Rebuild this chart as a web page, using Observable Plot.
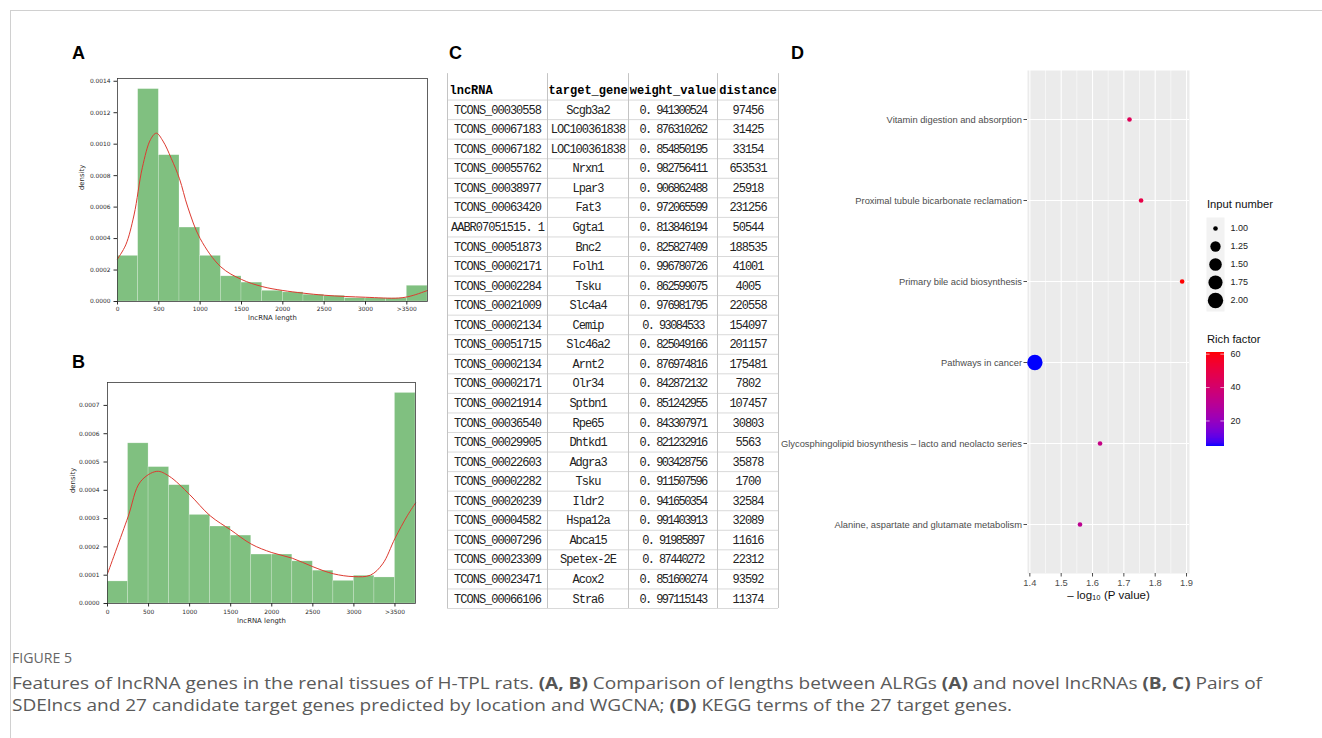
<!DOCTYPE html>
<html><head><meta charset="utf-8">
<script src="https://cdn.jsdelivr.net/npm/d3@7"></script>
<script src="https://cdn.jsdelivr.net/npm/@observablehq/plot@0.6"></script>
<style>
html,body{margin:0;padding:0;background:#fff}
body{width:1322px;height:738px;position:relative;overflow:hidden;font-family:"Liberation Sans",Arial,sans-serif}
#frame{position:absolute;left:10px;top:10px;width:1400px;height:800px;border-top:1px solid #d0d0d0;border-left:1px solid #d0d0d0}
.abs{position:absolute}
.plab{position:absolute;font:bold 18px "Liberation Sans",Arial,sans-serif;color:#000;line-height:1}
.ltitle{position:absolute;font:11.2px "Liberation Sans",Arial,sans-serif;color:#111;white-space:nowrap}
#figno{position:absolute;left:12px;top:648px;font:14px "Open Sans",sans-serif;color:#666;white-space:nowrap;transform-origin:0 50%}
.capline{position:absolute;left:12px;font:16.5px "Open Sans",sans-serif;color:#5a5a5a;white-space:nowrap;transform-origin:0 50%;line-height:22px}
.capline b{font-weight:700;color:#555}
.tbl text{letter-spacing:-1px}
svg{overflow:visible}
</style></head><body>
<div id="frame"></div>
<div class="plab" style="left:72px;top:44px">A</div>
<div class="plab" style="left:72px;top:353px">B</div>
<div class="plab" style="left:449px;top:44px">C</div>
<div class="plab" style="left:791px;top:44px">D</div>
<div id="pA" class="abs" style="left:60px;top:70px"></div>
<div id="pB" class="abs" style="left:60px;top:375px"></div>
<div id="pC" class="abs" style="left:440px;top:70px"></div>
<div id="pD" class="abs" style="left:780px;top:60px"></div>
<div class="ltitle" style="left:1207px;top:198px">Input number</div>
<div id="lgS" class="abs" style="left:1206px;top:217px"></div>
<div class="ltitle" style="left:1207px;top:333px">Rich factor</div>
<div id="lgC" class="abs" style="left:1206px;top:350px"></div>
<div id="figno">FIGURE 5</div>
<div id="cap1" class="capline" style="top:672px">Features of lncRNA genes in the renal tissues of H-TPL rats. <b>(A, B)</b> Comparison of lengths between ALRGs <b>(A)</b> and novel lncRNAs <b>(B, C)</b> Pairs of</div>
<div id="cap2" class="capline" style="top:694px">SDElncs and 27 candidate target genes predicted by location and WGCNA; <b>(D)</b> KEGG terms of the 27 target genes.</div>
<script>
// ---------- Panels A & B: length histograms ----------
const binStarts = [0,250,500,750,1000,1250,1500,1750,2000,2250,2500,2750,3000,3250,3500];
const binWidth = 250;
const densityA = [0.00029,0.00135,0.00093,0.00047,0.00029,0.00016,0.00012,0.000068,0.000058,0.000043,0.000036,0.000021,0.00002,0.00002,0.0001];
const densityB = [0.000078,0.000566,0.000482,0.000418,0.000313,0.000272,0.00024,0.000173,0.000173,0.000149,0.000116,0.00008,0.000098,0.000092,0.000744];
const kdeLengthA = [0,100,200,300,400,470,550,650,750,850,1000,1250,1500,1750,2000,2500,3000,3400,3550,3750];
const kdeA = [0.00027,0.00036,0.00055,0.00085,0.00103,0.00107,0.00102,0.00091,0.00078,0.0006,0.0004,0.00022,0.00014,0.000095,0.00007,0.00004,0.000027,0.000022,0.000035,0.00007];
const kdeLengthB = [0,250,400,600,750,1000,1250,1500,1750,2000,2250,2500,2750,3000,3200,3350,3500,3650,3750];
const kdeB = [0.000105,0.000306,0.00043,0.000467,0.00045,0.000385,0.00031,0.00026,0.00021,0.00018,0.00016,0.00013,0.000105,0.000095,0.0001,0.00014,0.00023,0.00031,0.000355];
const lengthTicks = [0,500,1000,1500,2000,2500,3000,3500];
const lengthTickLabels = ["0","500","1000","1500","2000","2500","3000",">3500"];
const densityTicksA = [0,0.0002,0.0004,0.0006,0.0008,0.001,0.0012,0.0014];
const densityTicksB = [0,0.0001,0.0002,0.0003,0.0004,0.0005,0.0006,0.0007];

function histPanel(dens, kx, ky, yMax, yTicks, L) {
  const bars = binStarts.map((s, i) => ({x1: s, x2: s + binWidth, y: dens[i]}));
  const kde = kx.map((x, i) => ({x, y: ky[i]}));
  return Plot.plot({
    width: L.width, height: L.height,
    marginLeft: L.ml, marginRight: L.mr, marginTop: L.mt, marginBottom: L.mb,
    style: {fontFamily: "DejaVu Sans, sans-serif", fontSize: "5.9px", color: "#2a2a2a", background: "transparent"},
    x: {domain: [0, 3750]},
    y: {domain: [0, yMax]},
    marks: [
      Plot.rectY(bars, {x1: "x1", x2: "x2", y: "y", fill: "#80C080", stroke: "#ffffff", strokeOpacity: 0.35, strokeWidth: 0.6}),
      Plot.line(kde, {x: "x", y: "y", stroke: "#DD3A30", strokeWidth: 1, curve: "catmull-rom"}),
      Plot.frame({stroke: "#3a3a3a", strokeWidth: 0.8}),
      Plot.axisX(lengthTicks, {tickSize: 3.5, tickPadding: L.xpad, tickFormat: d => lengthTickLabels[lengthTicks.indexOf(d)], label: null, fill: "#2a2a2a"}),
      Plot.axisY(yTicks, {tickSize: 3.5, tickPadding: L.ypad, tickFormat: d => d.toFixed(4), label: null, fill: "#2a2a2a"}),
      Plot.text(["lncRNA length"], {frameAnchor: "bottom", dy: L.xlab, fontSize: 6.9, fill: "#2a2a2a"}),
      Plot.text(["density"], {frameAnchor: "left", dx: L.ylab, rotate: -90, fontSize: 6.9, fill: "#2a2a2a"})
    ]
  });
}
document.getElementById("pA").append(histPanel(densityA, kdeLengthA, kdeA, 0.0014175, densityTicksA,
  {width: 380, height: 262, ml: 57, mr: 13, mt: 8, mb: 31, xpad: 2, ypad: 3.5, xlab: 18, ylab: -36}));
document.getElementById("pB").append(histPanel(densityB, kdeLengthB, kdeB, 0.000781, densityTicksB,
  {width: 370, height: 260, ml: 47, mr: 15, mt: 7, mb: 32, xpad: 2.5, ypad: 4.5, xlab: 19.5, ylab: -35}));

// ---------- Panel C: table ----------
const columns = ["lncRNA", "target_gene", "weight_value", "distance"];
const lncRNA = ["TCONS_00030558","TCONS_00067183","TCONS_00067182","TCONS_00055762","TCONS_00038977","TCONS_00063420","AABR07051515. 1","TCONS_00051873","TCONS_00002171","TCONS_00002284","TCONS_00021009","TCONS_00002134","TCONS_00051715","TCONS_00002134","TCONS_00002171","TCONS_00021914","TCONS_00036540","TCONS_00029905","TCONS_00022603","TCONS_00002282","TCONS_00020239","TCONS_00004582","TCONS_00007296","TCONS_00023309","TCONS_00023471","TCONS_00066106"];
const targetGene = ["Scgb3a2","LOC100361838","LOC100361838","Nrxn1","Lpar3","Fat3","Ggta1","Bnc2","Folh1","Tsku","Slc4a4","Cemip","Slc46a2","Arnt2","Olr34","Sptbn1","Rpe65","Dhtkd1","Adgra3","Tsku","Ildr2","Hspa12a","Abca15","Spetex-2E","Acox2","Stra6"];
const weightValue = ["0. 941300524","0. 876310262","0. 854850195","0. 982756411","0. 906862488","0. 972065599","0. 813846194","0. 825827409","0. 996780726","0. 862599075","0. 976981795","0. 93084533","0. 825049166","0. 876974816","0. 842872132","0. 851242955","0. 843307971","0. 821232916","0. 903428756","0. 911507596","0. 941650354","0. 991403913","0. 91985897","0. 87440272","0. 851600274","0. 997115143"];
const distance = [97456,31425,33154,653531,25918,231256,50544,188535,41001,4005,220558,154097,201157,175481,7802,107457,30803,5563,35878,1700,32584,32089,11616,22312,93592,11374];

const colWidths = [100, 81, 89, 61];
const colEdges = [0]; colWidths.forEach(w => colEdges.push(colEdges[colEdges.length - 1] + w));
const colMid = colWidths.map((w, i) => colEdges[i] + w / 2);
const nRows = lncRNA.length + 1;
const cells = [];
lncRNA.forEach((v, r) => {
  [v, targetGene[r], weightValue[r], String(distance[r])].forEach((t, c) => cells.push({row: r + 1, col: c, text: t}));
});
const headers = columns.map((t, c) => ({row: 0, col: c, text: t}));
document.getElementById("pC").append(Plot.plot({
  className: "tbl",
  width: 345, height: 545, marginLeft: 7, marginRight: 7, marginTop: 10, marginBottom: 7,
  style: {background: "transparent", color: "#111"},
  x: {domain: [0, colEdges[colEdges.length - 1]], axis: null},
  y: {domain: [0, nRows], reverse: true, axis: null},
  marks: [
    Plot.ruleY(d3.range(1, nRows + 1), {stroke: "#d9d9d9", strokeWidth: 1}),
    Plot.ruleX(colEdges, {y1: -0.35, y2: nRows, stroke: "#c4c4c4", strokeWidth: 1}),
    Plot.text(headers.filter(d => d.col === 0), {x: 2, y: d => d.row + 0.5, text: "text", textAnchor: "start",
      fontFamily: "Liberation Mono, monospace", fontWeight: "bold", fontSize: 12, fill: "#000"}),
    Plot.text(headers.filter(d => d.col > 0), {x: d => colMid[d.col], y: d => d.row + 0.5, text: "text",
      fontFamily: "Liberation Mono, monospace", fontWeight: "bold", fontSize: 12, fill: "#000"}),
    Plot.text(cells, {x: d => colMid[d.col], y: d => d.row + 0.5, text: "text",
      fontFamily: "Liberation Mono, monospace", fontSize: 12, fill: "#222"})
  ]
}));
// table glyph spacing: headers natural, weight values tighter
document.querySelectorAll(".tbl text").forEach(t => {
  const s = t.textContent;
  if (columns.includes(s)) t.style.letterSpacing = "0px";
  else if (s.startsWith("0. ")) t.style.letterSpacing = "-1.6px";
});

// ---------- Panel D: KEGG bubble chart ----------
const pathways = ["Vitamin digestion and absorption","Proximal tubule bicarbonate reclamation","Primary bile acid biosynthesis","Pathways in cancer","Glycosphingolipid biosynthesis \u2013 lacto and neolacto series","Alanine, aspartate and glutamate metabolism"];
const negLog10P = [1.718, 1.755, 1.886, 1.416, 1.624, 1.56];
const inputNumber = [1, 1, 1, 2, 1, 1];
const richFactor = [45, 49, 61, 4.7, 34, 31];
const pTicks = [1.4, 1.5, 1.6, 1.7, 1.8, 1.9];
const pMinorTicks = [1.45, 1.55, 1.65, 1.75, 1.85];
const sizeLegendValues = [1, 1.25, 1.5, 1.75, 2];
const richLegendTicks = [20, 40, 60];
const kegg = pathways.map((t, i) => ({term: t, p: negLog10P[i], n: inputNumber[i], rich: richFactor[i]}));

const rScale = {domain: [1, 2], range: [0, 1], interpolate: t => 2.3 + 5.4 * Math.sqrt(t)};
const colorScale = {type: "linear", domain: [4.7, 61], range: ["blue", "red"], interpolate: "lab"};

document.getElementById("pD").append(Plot.plot({
  width: 420, height: 550, marginLeft: 247, marginRight: 11, marginTop: 10, marginBottom: 37,
  style: {fontFamily: "Liberation Sans, Arial, sans-serif", fontSize: "9.35px", background: "transparent"},
  x: {domain: [1.3925, 1.9095]},
  y: {type: "point", domain: pathways, padding: 0.6},
  r: rScale,
  color: colorScale,
  marks: [
    Plot.frame({fill: "#EBEBEB"}),
    Plot.gridX(pMinorTicks, {stroke: "#ffffff", strokeOpacity: 1, strokeWidth: 0.55}),
    Plot.gridX(pTicks, {stroke: "#ffffff", strokeOpacity: 1, strokeWidth: 1.1}),
    Plot.gridY(pathways, {stroke: "#ffffff", strokeOpacity: 1, strokeWidth: 1.1}),
    Plot.dot(kegg, {x: "p", y: "term", r: "n", fill: "rich"}),
    Plot.axisY({tickSize: 3.5, tickPadding: 2, color: "#4D4D4D", label: null}),
    Plot.axisX(pTicks, {tickSize: 3.5, tickPadding: 2, tickFormat: d => d.toFixed(1), color: "#4D4D4D", label: null}),
    Plot.text(["\u2013 log\u2081\u2080 (P value)"], {frameAnchor: "bottom", dy: 25, fontSize: 11.5, fill: "#111"})
  ]
}));

// size legend
document.getElementById("lgS").append(Plot.plot({
  width: 60, height: 94, marginLeft: 0, marginRight: 42, marginTop: 0, marginBottom: 0,
  style: {fontFamily: "Liberation Sans, Arial, sans-serif", fontSize: "9px", background: "transparent"},
  y: {type: "point", domain: sizeLegendValues, padding: 0.5, axis: null},
  r: rScale,
  marks: [
    Plot.frame({fill: "#F2F2F2"}),
    Plot.dot(sizeLegendValues, {y: d => d, r: d => d, fill: "#000"}),
    Plot.text(sizeLegendValues, {y: d => d, text: d => d.toFixed(2), frameAnchor: "right", dx: 6, textAnchor: "start", fill: "#222"})
  ]
}));

// color legend
const ramp = d3.range(4.7, 61, 0.5);
document.getElementById("lgC").append(Plot.plot({
  width: 60, height: 100, marginLeft: 0, marginRight: 42, marginTop: 2, marginBottom: 4,
  style: {fontFamily: "Liberation Sans, Arial, sans-serif", fontSize: "9px", background: "transparent"},
  x: {domain: [0, 1], axis: null},
  y: {domain: [4.7, 61], axis: null},
  color: colorScale,
  marks: [
    Plot.rect(ramp, {x1: 0, x2: 1, y1: d => d, y2: d => Math.min(61, d + 1.2), fill: d => d + 0.25, shapeRendering: "crispEdges"}),
    Plot.ruleY(richLegendTicks, {x1: 0, x2: 0.2, stroke: "#ffffff", strokeOpacity: 0.8, strokeWidth: 0.8}),
    Plot.ruleY(richLegendTicks, {x1: 0.8, x2: 1, stroke: "#ffffff", strokeOpacity: 0.8, strokeWidth: 0.8}),
    Plot.text(richLegendTicks, {y: d => d, text: d => String(d), frameAnchor: "right", dx: 6, textAnchor: "start", fill: "#222"})
  ]
}));

// caption fitting
const c1 = document.getElementById("cap1"), c2 = document.getElementById("cap2"), fn = document.getElementById("figno");
const k = 1250 / c1.getBoundingClientRect().width;
c1.style.transform = `scaleX(${k})`;
c2.style.transform = `scaleX(${k})`;
fn.style.transform = `scaleX(${60 / fn.getBoundingClientRect().width})`;
</script>
</body></html>
